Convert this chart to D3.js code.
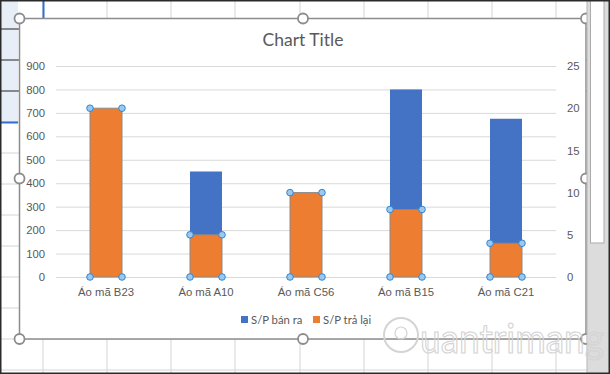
<!DOCTYPE html>
<html>
<head>
<meta charset="utf-8">
<script src="https://cdn.jsdelivr.net/npm/d3@7"></script>
<style>
  body { margin: 0; background: #fff; }
  svg { display: block; font-family: Lato, "Open Sans", sans-serif; }
</style>
</head>
<body>
<div id="chart"></div>
<script>
// chart data
const categories = ["Áo mã B23", "Áo mã A10", "Áo mã C56", "Áo mã B15", "Áo mã C21"];
const soldValues = [600, 450, 320, 800, 675];   // S/P bán ra (left axis)
const returnedValues = [20, 5, 10, 8, 4];       // S/P trả lại (right axis)
const leftTicks = [0, 100, 200, 300, 400, 500, 600, 700, 800, 900];
const rightTicks = [0, 5, 10, 15, 20, 25];
const seriesNames = ["S/P bán ra", "S/P trả lại"];

const width = 610;
const height = 374;
const blue = "#4472C4";
const orange = "#ED7D31";
const textColor = "#595959";

const svg = d3.select("#chart").append("svg")
    .attr("width", width)
    .attr("height", height);

// spreadsheet behind the chart
const sheet = svg.append("g");
const colLines = [43, 107, 171, 235, 300, 364, 428, 492, 556];
const rowLines = [29, 60, 91, 122, 153, 184, 215, 246, 277, 308, 339, 370];

sheet.append("rect").attr("x", 0).attr("y", 0).attr("width", 18).attr("height", 122)
  .attr("fill", "#e8eef8");
sheet.selectAll("line.col").data(colLines).enter().append("line")
  .attr("x1", d => d).attr("x2", d => d).attr("y1", 0).attr("y2", height)
  .attr("stroke", "#d4d4d4");
sheet.selectAll("line.row").data(rowLines).enter().append("line")
  .attr("x1", 0).attr("x2", 587).attr("y1", d => d).attr("y2", d => d)
  .attr("stroke", (d, i) => i < 3 ? "#222" : "#d4d4d4");
sheet.append("line").attr("x1", 0).attr("x2", 18).attr("y1", 122.5).attr("y2", 122.5)
  .attr("stroke", "#2f6fd0").attr("stroke-width", 2);
sheet.append("line").attr("x1", 43.5).attr("x2", 43.5).attr("y1", 0).attr("y2", 20)
  .attr("stroke", "#2f6fd0").attr("stroke-width", 2);

// chart area
const box = { left: 19.5, top: 18.5, right: 586, bottom: 339 };
svg.append("rect")
  .attr("x", box.left).attr("y", box.top)
  .attr("width", box.right - box.left).attr("height", box.bottom - box.top)
  .attr("fill", "#fff").attr("stroke", "#8c8c8c").attr("stroke-width", 1.5);

svg.append("text")
  .attr("x", 303).attr("y", 46)
  .attr("text-anchor", "middle")
  .attr("fill", textColor)
  .style("font-size", "17.5px")
  .text("Chart Title");

const x = d3.scaleBand().domain(categories).range([56, 556]);
const y = d3.scaleLinear().domain([0, 900]).range([277, 66]);
const y2 = d3.scaleLinear().domain([0, 25]).range([277, 66]);
const barW = x.bandwidth() * 0.32;

// gridlines + left axis
const yAxis = svg.append("g")
  .attr("transform", "translate(56,0)")
  .call(d3.axisLeft(y).tickValues(leftTicks).tickSize(-500).tickPadding(11));
yAxis.select(".domain").remove();
yAxis.selectAll("line").attr("stroke", "#d9d9d9");
yAxis.selectAll("text").attr("fill", textColor).style("font-size", "11.3px");

const y2Axis = svg.append("g")
  .attr("transform", "translate(556,0)")
  .call(d3.axisRight(y2).tickValues(rightTicks).tickSize(0).tickPadding(11));
y2Axis.select(".domain").remove();
y2Axis.selectAll("text").attr("fill", textColor).style("font-size", "11.3px");

const xAxis = svg.append("g")
  .attr("transform", "translate(0,277)")
  .call(d3.axisBottom(x).tickSize(0).tickPadding(11));
xAxis.select(".domain").remove();
xAxis.selectAll("text").attr("fill", textColor).style("font-size", "11.3px");

// blue bars (primary axis)
svg.append("g").selectAll("rect")
  .data(soldValues).enter().append("rect")
  .attr("x", (d, i) => x(categories[i]) + (x.bandwidth() - barW) / 2)
  .attr("y", d => y(d))
  .attr("width", barW)
  .attr("height", d => y(0) - y(d))
  .attr("fill", blue);

// orange bars (secondary axis), selected
const orangeG = svg.append("g");
orangeG.selectAll("rect")
  .data(returnedValues).enter().append("rect")
  .attr("x", (d, i) => x(categories[i]) + (x.bandwidth() - barW) / 2)
  .attr("y", d => y2(d))
  .attr("width", barW)
  .attr("height", d => y2(0) - y2(d))
  .attr("fill", orange)
  .attr("stroke", "#8a8a8a")
  .attr("stroke-width", 1);

const handles = [];
returnedValues.forEach((d, i) => {
  const x0 = x(categories[i]) + (x.bandwidth() - barW) / 2;
  [x0, x0 + barW].forEach(hx => {
    handles.push([hx, y2(d)]);
    handles.push([hx, y2(0)]);
  });
});
orangeG.selectAll("circle")
  .data(handles).enter().append("circle")
  .attr("cx", d => d[0]).attr("cy", d => d[1]).attr("r", 3.3)
  .attr("fill", "#9dc8ee").attr("stroke", "#2e86d6").attr("stroke-width", 1);

// legend
const legend = svg.append("g").attr("transform", "translate(241,316)");
const legendX = [0, 72];
seriesNames.forEach((name, i) => {
  const g = legend.append("g").attr("transform", `translate(${legendX[i]},0)`);
  g.append("rect").attr("width", 7).attr("height", 7).attr("fill", i === 0 ? blue : orange);
  g.append("text").attr("x", 10).attr("y", 7.5)
    .attr("fill", textColor).style("font-size", "11.3px").text(name);
});

// chart frame handles
const frameHandles = [
  [box.left, box.top], [303, box.top], [box.right, box.top],
  [box.left, 178.5], [box.right, 178.5],
  [box.left, box.bottom], [303, box.bottom], [box.right, box.bottom]
];
svg.append("g").selectAll("circle")
  .data(frameHandles).enter().append("circle")
  .attr("cx", d => d[0]).attr("cy", d => d[1]).attr("r", 5)
  .attr("fill", "#fff").attr("stroke", "#8c8c8c").attr("stroke-width", 1.8);

// scrollbar
svg.append("rect").attr("x", 587).attr("y", 0).attr("width", 23).attr("height", height)
  .attr("fill", "#dcdcdc");
svg.append("rect").attr("x", 590.5).attr("y", -1).attr("width", 13.5).attr("height", 244)
  .attr("fill", "#fff").attr("stroke", "#ababab");
svg.append("line").attr("x1", 587).attr("x2", 587).attr("y1", 0).attr("y2", height)
  .attr("stroke", "#b5b5b5");

// watermark (sits over everything)
svg.append("text")
  .attr("x", 420).attr("y", 353)
  .attr("textLength", 184).attr("lengthAdjust", "spacingAndGlyphs")
  .attr("fill", "none").attr("stroke", "#d4d4d4").attr("stroke-width", 1.2)
  .style("font-size", "40px")
  .text("uantrimang");
svg.append("circle").attr("cx", 401).attr("cy", 335).attr("r", 17)
  .attr("fill", "none").attr("stroke", "#d4d4d4").attr("stroke-width", 2);
svg.append("circle").attr("cx", 401).attr("cy", 333).attr("r", 6)
  .attr("fill", "none").attr("stroke", "#d4d4d4").attr("stroke-width", 1.2);

// outer frame
svg.append("rect").attr("x", 0.75).attr("y", 0.75).attr("width", width - 1.5).attr("height", height - 1.5)
  .attr("fill", "none").attr("stroke", "#2b2b2b").attr("stroke-width", 1.5);
</script>
</body>
</html>
